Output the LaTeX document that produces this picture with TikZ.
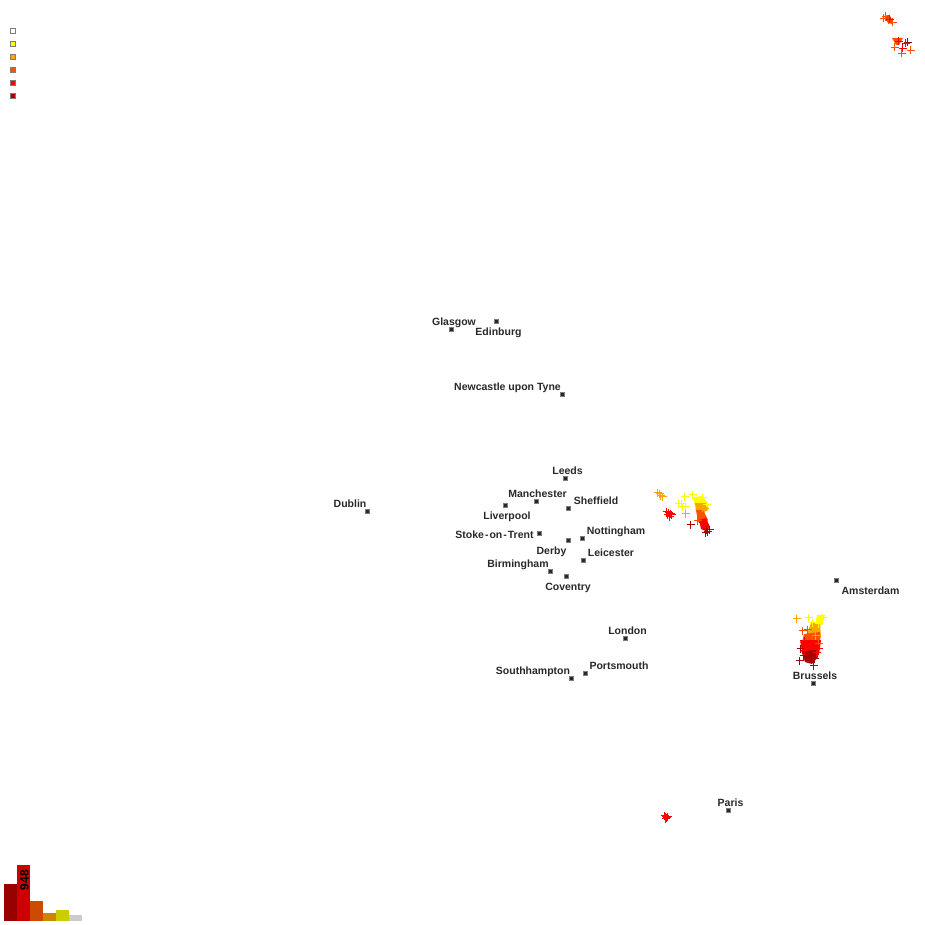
\documentclass[tikz,border=0pt]{standalone}
\usepackage{fontspec}
\setmainfont{Liberation Sans}
\usepackage{xcolor}
\usetikzlibrary{positioning}
\definecolor{hityellow}{RGB}{255,255,0}
\definecolor{hitorange}{RGB}{255,165,0}
\definecolor{hitflame}{RGB}{255,80,0}
\definecolor{hitred}{RGB}{255,0,0}
\definecolor{hitdark}{RGB}{170,0,0}
\definecolor{citygray}{RGB}{125,125,125}
\definecolor{cityink}{RGB}{40,40,40}
\tikzset{
    citymark/.style={draw=citygray, fill=cityink, line width=1.2pt, minimum size=4.5pt, inner sep=0pt},
    citytext/.style={text=cityink, font=\bfseries\fontsize{10.5}{11}\selectfont, inner sep=0pt, text height=10pt, text depth=1pt},
    legendmark/.style={draw=citygray, line width=1.3pt, minimum size=5.5pt, inner sep=0pt},
    hit/.style={line width=1pt}
}
\begin{document}
\begin{tikzpicture}[x=1pt,y=-1pt]
    \useasboundingbox (0,0) rectangle (925,925);

    % legend
    \foreach \i/\ly/\co in {1/31/white,2/44/hityellow,3/57/hitorange,4/70/hitflame,5/83/hitred,6/96/hitdark}
    {
        \node[legendmark, fill=\co] (legend\i) at (13,\ly) {};
    }

    % histogram
    \foreach \bx/\btop/\co in {
        4/884/{rgb,255:red,153;green,0;blue,0},
        17/865/{rgb,255:red,204;green,0;blue,0},
        30/901/{rgb,255:red,204;green,75;blue,0},
        43/913/{rgb,255:red,204;green,135;blue,0},
        56/910/{rgb,255:red,204;green,204;blue,0},
        69/915/{rgb,255:red,204;green,204;blue,204}}
    {
        \fill[fill=\co] (\bx,\btop) rectangle (\bx+13,921);
    }
    \node[rotate=90, font=\bfseries\fontsize{12}{12}\selectfont, inner sep=0pt] (peak) at (24.5,880) {948};

    % solid blobs
    \fill[hitflame] (884,16) -- (889,15) -- (893,21) -- (892,24) -- (888,23) -- cycle;
    \fill[hitred] (886,16) -- (890,16) -- (892,21) -- (889,22) -- cycle;
    \fill[hitflame] (892,38) -- (903,38) -- (899,45) -- (896,45) -- cycle;
    \fill[hityellow] (693,497) -- (703,496) -- (707,503) -- (701,510) -- (695,506) -- cycle;
    \fill[hitorange] (695,503) -- (707,503) -- (708,510) -- (702,513) -- (696,512) -- cycle;
    \fill[hitflame] (696,510) -- (703,510) -- (708,520) -- (705,524) -- (698,522) -- cycle;
    \fill[hitred] (699,520) -- (706,518) -- (710,527) -- (706,531) -- (701,529) -- cycle;
    \fill[hityellow] (817,615) -- (825,615) -- (822,625) -- (815,626) -- cycle;
    \fill[hitorange] (811,623) -- (820,623) -- (821,638) -- (805,640) -- cycle;
    \fill[hitflame] (804,634) -- (820,632) -- (820,645) -- (801,646) -- cycle;
    \fill[hitred] (800,640) -- (821,640) -- (819,655) -- (810,658) -- (802,652) -- cycle;
    \fill[hitdark] (801,650) -- (816,650) -- (818,657) -- (812,664) -- (805,662) -- cycle;

    % single hits
    \begin{scope}[shift={(0.5,0.5)}]
    \foreach \px/\py/\co in {
        883/18/hitflame, 885/16/hitflame, 888/20/hitflame, 892/22/hitflame, 889/19/hitred,
        898/41/hitred, 907/42/hitdark, 905/43/hitred, 894/47/hitflame, 902/48/hitred, 910/50/hitflame, 901/53/hitflame,
        657/492/hitorange, 659/493/hitorange, 660/495/hitorange, 662/496/hitorange,
        666/511/hitred, 667/514/hitred, 668/512/hitred, 669/516/hitred, 670/513/hitred, 671/514/hitred,
        684/496/hityellow, 678/503/hityellow, 681/503/hityellow, 682/506/hityellow, 685/506/hityellow, 685/513/hitorange,
        692/494/hityellow, 702/497/hityellow, 706/504/hityellow, 702/507/hitorange, 704/508/hitorange,
        690/524/hitdark, 697/520/hitflame, 704/525/hitred, 702/522/hitred, 706/529/hitdark, 707/531/hitdark, 705/532/hitdark, 709/529/hitdark,
        664/815/hitred, 665/816/hitred, 666/817/hitred, 667/816/hitred, 665/818/hitred,
        796/618/hitorange, 808/617/hityellow, 812/622/hityellow, 820/619/hityellow, 818/623/hityellow, 822/617/hityellow,
        815/628/hitorange, 802/630/hitflame, 807/629/hitflame, 815/635/hitorange, 818/643/hitflame,
        804/640/hitred, 800/648/hitdark, 804/650/hitred, 816/652/hitred, 799/660/hitdark,
        813/665/hitdark, 808/657/hitdark, 814/658/hitdark, 803/655/hitdark, 818/648/hitred}
    {
        \draw[hit,\co] (\px-4,\py) -- (\px+4,\py) (\px,\py-4) -- (\px,\py+4);
    }
    \end{scope}

    % cities
    \foreach \id/\mx/\my/\tx/\ty/\name in {
        glasgow/451/329/454/321/Glasgow,
        edinburg/496/321/498.5/331/Edinburg,
        newcastle/562/394/507.5/386/Newcastle upon Tyne,
        leeds/565/478/567.5/470/Leeds,
        manchester/536/501/537.5/493/Manchester,
        liverpool/505/505/507/515/Liverpool,
        sheffield/568/508/596/500/Sheffield,
        dublin/367/511/350/503/Dublin,
        stoke/539/533/494.5/534/Stoke\kern1pt-\kern1pt on\kern1pt-\kern1pt Trent,
        derby/568/540/551.5/550/Derby,
        nottingham/582/538/616/530/Nottingham,
        leicester/583/560/611/552/Leicester,
        birmingham/550/571/518/563/Birmingham,
        coventry/566/576/568/586/Coventry,
        amsterdam/836/580/870.5/590/Amsterdam,
        london/625/638/627.5/630/London,
        portsmouth/585/673/619/665/Portsmouth,
        southhampton/571/678/533/670/Southhampton,
        brussels/813/683/815/675/Brussels,
        paris/728/810/730.5/802/Paris}
    {
        \node[citymark] (\id) at (\mx+0.5,\my+0.5) {};
        \node[citytext] (\id text) at (\tx,\ty) {\name};
    }
\end{tikzpicture}
\end{document}
